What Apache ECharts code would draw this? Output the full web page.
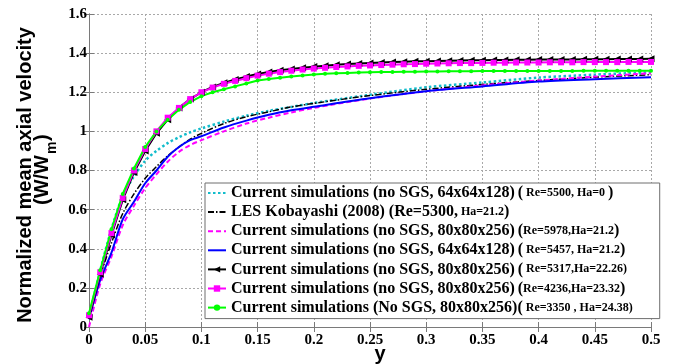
<!DOCTYPE html>
<html>
<head>
<meta charset="utf-8">
<script src="https://cdn.jsdelivr.net/npm/echarts@6/dist/echarts.min.js"></script>
<style>
  html, body { margin: 0; padding: 0; background: #fff; }
  #chart { width: 676px; height: 364px; }
</style>
</head>
<body>
<div id="chart"></div>
<script>
// Wall distance grids (fine grid for the marker runs, coarse grid for the plain curves)
const yFine = [0, 0.01, 0.02, 0.03, 0.04, 0.05, 0.06, 0.07, 0.08, 0.09,
  0.10, 0.11, 0.12, 0.13, 0.14, 0.15, 0.16, 0.17, 0.18, 0.19,
  0.20, 0.21, 0.22, 0.23, 0.24, 0.25, 0.26, 0.27, 0.28, 0.29,
  0.30, 0.31, 0.32, 0.33, 0.34, 0.35, 0.36, 0.37, 0.38, 0.39,
  0.40, 0.41, 0.42, 0.43, 0.44, 0.45, 0.46, 0.47, 0.48, 0.49, 0.50];
const yCoarse = [0, 0.01, 0.02, 0.03, 0.04, 0.05, 0.06, 0.07, 0.08, 0.09, 0.10,
  0.12, 0.14, 0.16, 0.18, 0.20, 0.25, 0.30, 0.35, 0.40, 0.45, 0.50];

// Normalized mean axial velocity W/Wm
const wNoSgs64Ha0 = [0.05, 0.29, 0.50, 0.67, 0.77, 0.85, 0.90, 0.94, 0.97, 0.995, 1.015,
  1.05, 1.08, 1.105, 1.125, 1.145, 1.187, 1.225, 1.25, 1.275, 1.29, 1.302];
const wKobayashi = [0.05, 0.26, 0.43, 0.58, 0.68, 0.76, 0.82, 0.875, 0.92, 0.96, 0.99,
  1.04, 1.075, 1.10, 1.125, 1.143, 1.183, 1.215, 1.24, 1.26, 1.277, 1.29];
const wNoSgs80Re5978 = [0.0, 0.22, 0.36, 0.52, 0.62, 0.71, 0.78, 0.845, 0.895, 0.93, 0.955,
  1.0, 1.04, 1.07, 1.097, 1.12, 1.168, 1.205, 1.235, 1.26, 1.28, 1.297];
const wNoSgs64Re5457 = [0.04, 0.24, 0.38, 0.55, 0.64, 0.735, 0.80, 0.87, 0.92, 0.955, 0.975,
  1.02, 1.055, 1.085, 1.108, 1.126, 1.169, 1.205, 1.23, 1.255, 1.267, 1.277];
const wNoSgs80Re5317 = [0.05, 0.27, 0.47, 0.65, 0.79, 0.90, 0.99, 1.06, 1.12, 1.165,
  1.20, 1.227, 1.248, 1.265, 1.28, 1.293, 1.303, 1.312, 1.319, 1.325,
  1.331, 1.336, 1.340, 1.344, 1.347, 1.350, 1.352, 1.354, 1.356, 1.358,
  1.359, 1.360, 1.361, 1.362, 1.363, 1.364, 1.365, 1.365, 1.366, 1.366,
  1.367, 1.367, 1.368, 1.368, 1.369, 1.369, 1.369, 1.370, 1.370, 1.370, 1.371];
const wNoSgs80Re4236 = [0.06, 0.28, 0.48, 0.66, 0.80, 0.91, 1.00, 1.07, 1.12, 1.165,
  1.20, 1.224, 1.243, 1.258, 1.272, 1.285, 1.295, 1.303, 1.31, 1.316,
  1.321, 1.325, 1.329, 1.332, 1.335, 1.337, 1.339, 1.341, 1.343, 1.344,
  1.346, 1.347, 1.348, 1.349, 1.349, 1.350, 1.351, 1.351, 1.352, 1.352,
  1.352, 1.353, 1.353, 1.353, 1.354, 1.354, 1.354, 1.354, 1.355, 1.355, 1.355];
const wNoSgs80Re3350 = [0.07, 0.29, 0.50, 0.68, 0.81, 0.92, 1.00, 1.06, 1.11, 1.15,
  1.18, 1.20, 1.215, 1.23, 1.245, 1.26, 1.268, 1.274, 1.28, 1.286,
  1.291, 1.294, 1.297, 1.299, 1.301, 1.302, 1.303, 1.304, 1.305, 1.305,
  1.306, 1.306, 1.307, 1.307, 1.307, 1.308, 1.308, 1.308, 1.308, 1.309,
  1.309, 1.309, 1.309, 1.309, 1.310, 1.310, 1.310, 1.310, 1.310, 1.310, 1.310];

// Legend captions: main part, and the flow parameters in mixed sizes
const legendText = {
  s1: '{b|Current simulations (no SGS, 64x64x128)}{s| }{b|(}{s| Re=5500, Ha=0 }{b|)}',
  s2: '{b|LES Kobayashi (2008) (Re=5300,}{s| Ha=21.2}{b|)}',
  s3: '{b|Current simulations (no SGS, 80x80x256)}{s| }{b|(}{s|Re=5978,Ha=21.2}{b|)}',
  s4: '{b|Current simulations (no SGS, 64x64x128)}{s| }{b|(}{s| Re=5457, Ha=21.2}{b|)}',
  s5: '{b|Current simulations (no SGS, 80x80x256)}{s| }{b|(}{s| Re=5317,Ha=22.26)}',
  s6: '{b|Current simulations (no SGS, 80x80x256)}{s| }{b|(}{s|Re=4236,Ha=23.32}{b|)}',
  s7: '{b|Current simulations (No SGS, 80x80x256)}{b|(}{s| Re=3350 , Ha=24.38)}'
};

const zip = (xs, ys) => xs.map((x, i) => [x, ys[i]]);

const serif = 'Liberation Serif';
const axisGrey = '#7a7a7a';
const gridLine = { show: true, lineStyle: { color: '#a8a8a8', type: [2, 2], width: 1 } };

const chart = echarts.init(document.getElementById('chart'), null, { renderer: 'canvas' });

const plainLine = (id, xs, ys, color, type, width) => ({
  id: id, name: id, type: 'line', data: zip(xs, ys), xAxisIndex: 0, yAxisIndex: 0,
  symbol: 'none', smooth: 0.3, lineStyle: { color: color, type: type, width: width },
  itemStyle: { color: color }, animation: false
});
const markedLine = (id, ys, color, symbol, size, rotate) => ({
  id: id, name: id, type: 'line', data: zip(yFine, ys), xAxisIndex: 0, yAxisIndex: 0,
  symbol: symbol, symbolSize: size, symbolRotate: rotate, showAllSymbol: true,
  lineStyle: { color: color, width: 2 }, itemStyle: { color: color }, animation: false
});
// legend entries for the plain curves show only the line sample
const lineOnly = (name) => ({ name: name, itemStyle: { opacity: 0 } });

chart.setOption({
  backgroundColor: '#fff',
  animation: false,
  grid: { left: 89, right: 25, top: 14, bottom: 37, containLabel: false },
  xAxis: [{
    type: 'value', min: 0, max: 0.5, interval: 0.05, position: 'bottom',
    axisLine: { show: true, lineStyle: { color: axisGrey } },
    axisTick: { show: true, inside: true, length: 5, lineStyle: { color: axisGrey } },
    axisLabel: { color: '#000', fontFamily: serif, fontWeight: 'bold', fontSize: 15, margin: 6 },
    splitLine: gridLine
  }, {
    type: 'value', min: 0, max: 0.5, interval: 0.05, position: 'top',
    axisLine: { show: true, lineStyle: { color: axisGrey } },
    axisTick: { show: true, inside: true, length: 5, lineStyle: { color: axisGrey } },
    axisLabel: { show: false }, splitLine: { show: false }
  }],
  yAxis: [{
    type: 'value', min: 0, max: 1.6, interval: 0.2, position: 'left',
    axisLine: { show: true, lineStyle: { color: axisGrey } },
    axisTick: { show: true, inside: true, length: 5, lineStyle: { color: axisGrey } },
    axisLabel: { color: '#000', fontFamily: serif, fontWeight: 'bold', fontSize: 15, margin: 2 },
    splitLine: gridLine
  }, {
    type: 'value', min: 0, max: 1.6, interval: 0.2, position: 'right',
    axisLine: { show: true, lineStyle: { color: axisGrey } },
    axisTick: { show: true, inside: true, length: 5, lineStyle: { color: axisGrey } },
    axisLabel: { show: false }, splitLine: { show: false }
  }],
  legend: {
    orient: 'vertical', left: 205, top: 183,
    padding: [2, 27, 3, 2],
    itemWidth: 18, itemHeight: 8, itemGap: 3.1,
    backgroundColor: '#fff', borderColor: '#6e6e6e', borderWidth: 1,
    data: [lineOnly('s1'), lineOnly('s2'), lineOnly('s3'), lineOnly('s4'), 's5', 's6', 's7'],
    formatter: (name) => legendText[name],
    textStyle: {
      color: '#000',
      rich: {
        b: { fontFamily: serif, fontWeight: 'bold', fontSize: 16, lineHeight: 18, color: '#000' },
        s: { fontFamily: serif, fontWeight: 'bold', fontSize: 12, lineHeight: 18, color: '#000' }
      }
    }
  },
  graphic: [{
    type: 'group', x: 0, y: 0, rotation: Math.PI / 2, silent: true,
    children: [
      { type: 'text', x: -175, y: 25,
        style: { text: 'Normalized mean axial velocity', font: 'bold 20px "Liberation Sans"',
                 fill: '#000', textAlign: 'center', textVerticalAlign: 'middle' } },
      { type: 'text', x: -205, y: 42,
        style: { text: '(W/W', font: 'bold 20px "Liberation Sans"', fill: '#000',
                 textAlign: 'left', textVerticalAlign: 'middle' } },
      { type: 'text', x: -154, y: 52,
        style: { text: 'm', font: 'bold 14px "Liberation Sans"', fill: '#000',
                 textAlign: 'left', textVerticalAlign: 'middle' } },
      { type: 'text', x: -141, y: 42,
        style: { text: ')', font: 'bold 20px "Liberation Sans"', fill: '#000',
                 textAlign: 'left', textVerticalAlign: 'middle' } }
    ]
  }, {
    type: 'text', x: 380, y: 354, silent: true,
    style: { text: 'y', font: 'bold 20px "Liberation Sans"', fill: '#000',
             textAlign: 'center', textVerticalAlign: 'middle' }
  }],
  series: [
    plainLine('s1', yCoarse, wNoSgs64Ha0, '#12bccb', [2.5, 2.5], 2.5),
    plainLine('s2', yCoarse, wKobayashi, '#000000', [6, 2, 1.5, 2], 1.5),
    plainLine('s3', yCoarse, wNoSgs80Re5978, '#ff00ff', [5, 3], 2),
    plainLine('s4', yCoarse, wNoSgs64Re5457, '#0000ff', 'solid', 2),
    markedLine('s5', wNoSgs80Re5317, '#000000', 'triangle', 7, 90),
    markedLine('s6', wNoSgs80Re4236, '#ff00ff', 'rect', 6, 0),
    markedLine('s7', wNoSgs80Re3350, '#00ff00', 'circle', 4, 0)
  ]
});
</script>
</body>
</html>
